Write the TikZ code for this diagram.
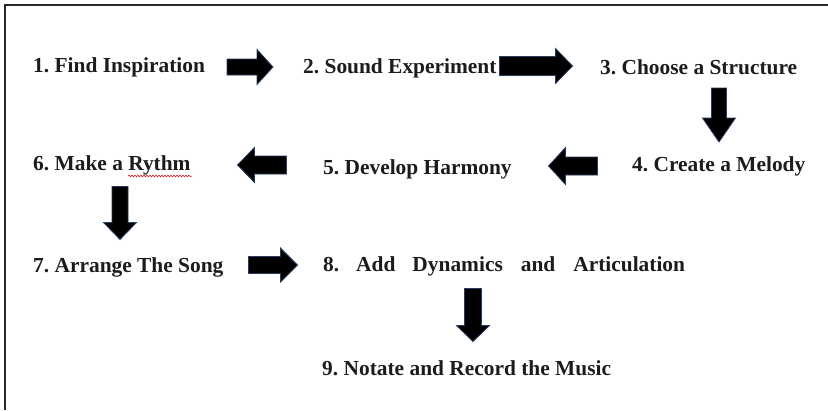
\documentclass[tikz,border=0pt]{standalone}
\usepackage{fontspec}
\setmainfont{Liberation Serif}
\frenchspacing
\usetikzlibrary{decorations.pathmorphing}
\definecolor{txt}{RGB}{28,28,28}
\definecolor{frame}{RGB}{40,40,40}
\definecolor{edge}{RGB}{40,60,95}
\tikzset{
  steptext/.style={anchor=base west, inner sep=0pt, text=txt,
    font=\fontsize{21.4}{25}\selectfont\bfseries},
  blockfill/.style={fill=black, draw=edge, line width=0.8pt, line join=miter},
  pics/barrow/.style n args={4}{code={
    \filldraw[blockfill] (-#1/2,-#3/2) -- ({#1/2-#4},-#3/2) -- ({#1/2-#4},-#2/2)
      -- (#1/2,0) -- ({#1/2-#4},#2/2) -- ({#1/2-#4},#3/2) -- (-#1/2,#3/2) -- cycle;
  }}
}
\begin{document}
\begin{tikzpicture}[x=1pt,y=-1pt]
\useasboundingbox (0,0) rectangle (828,410);
% frame (top and left edges)
\draw[frame, line width=1.5pt] (5,410) -- (5,5) -- (828,5);

% step texts
\node[steptext] (s1) at (33,72) {1. Find Inspiration};
\node[steptext] (s2) at (303,73) {2. Sound Experiment};
\node[steptext] (s3) at (600,74) {3. Choose a Structure};
\node[steptext] (s4) at (632,171) {4. Create a Melody};
\node[steptext] (s5) at (323,174) {5. Develop Harmony};
\node[steptext] (s6) at (33,170) {6. Make a Rythm};
\node[steptext] (s7) at (33,272) {7. Arrange The Song};
\node[steptext] (s8) at (323,271) {8.\hspace{17pt}Add\hspace{17pt}Dynamics\hspace{18pt}and\hspace{18pt}Articulation};
\node[steptext] (s9) at (322,375) {9. Notate and Record the Music};

% red spell-check squiggle under "Rythm"
\coordinate (sqa) at (128,176);
\coordinate (sqb) at (192,176);
\draw[red!85!black, line width=0.5pt, decorate,
  decoration={snake, amplitude=0.9pt, segment length=3pt}] (sqa) -- (sqb);

% block arrows
\pic (a1) at (250,67) {barrow={46}{35}{16}{16}};
\pic (a2) at (536,66) {barrow={73}{35}{19}{17}};
\pic[rotate=-90] (a3) at (719,115) {barrow={54}{33}{15}{24}};
\pic[rotate=180] (a4) at (573,166) {barrow={49}{37}{18}{17}};
\pic[rotate=180] (a5) at (262,165) {barrow={49}{35}{18}{17}};
\pic[rotate=-90] (a6) at (120,213) {barrow={53}{33}{16}{17}};
\pic (a7) at (273,265) {barrow={49}{34}{17}{17}};
\pic[rotate=-90] (a8) at (473,315) {barrow={53}{33}{17}{16}};
\end{tikzpicture}
\end{document}
